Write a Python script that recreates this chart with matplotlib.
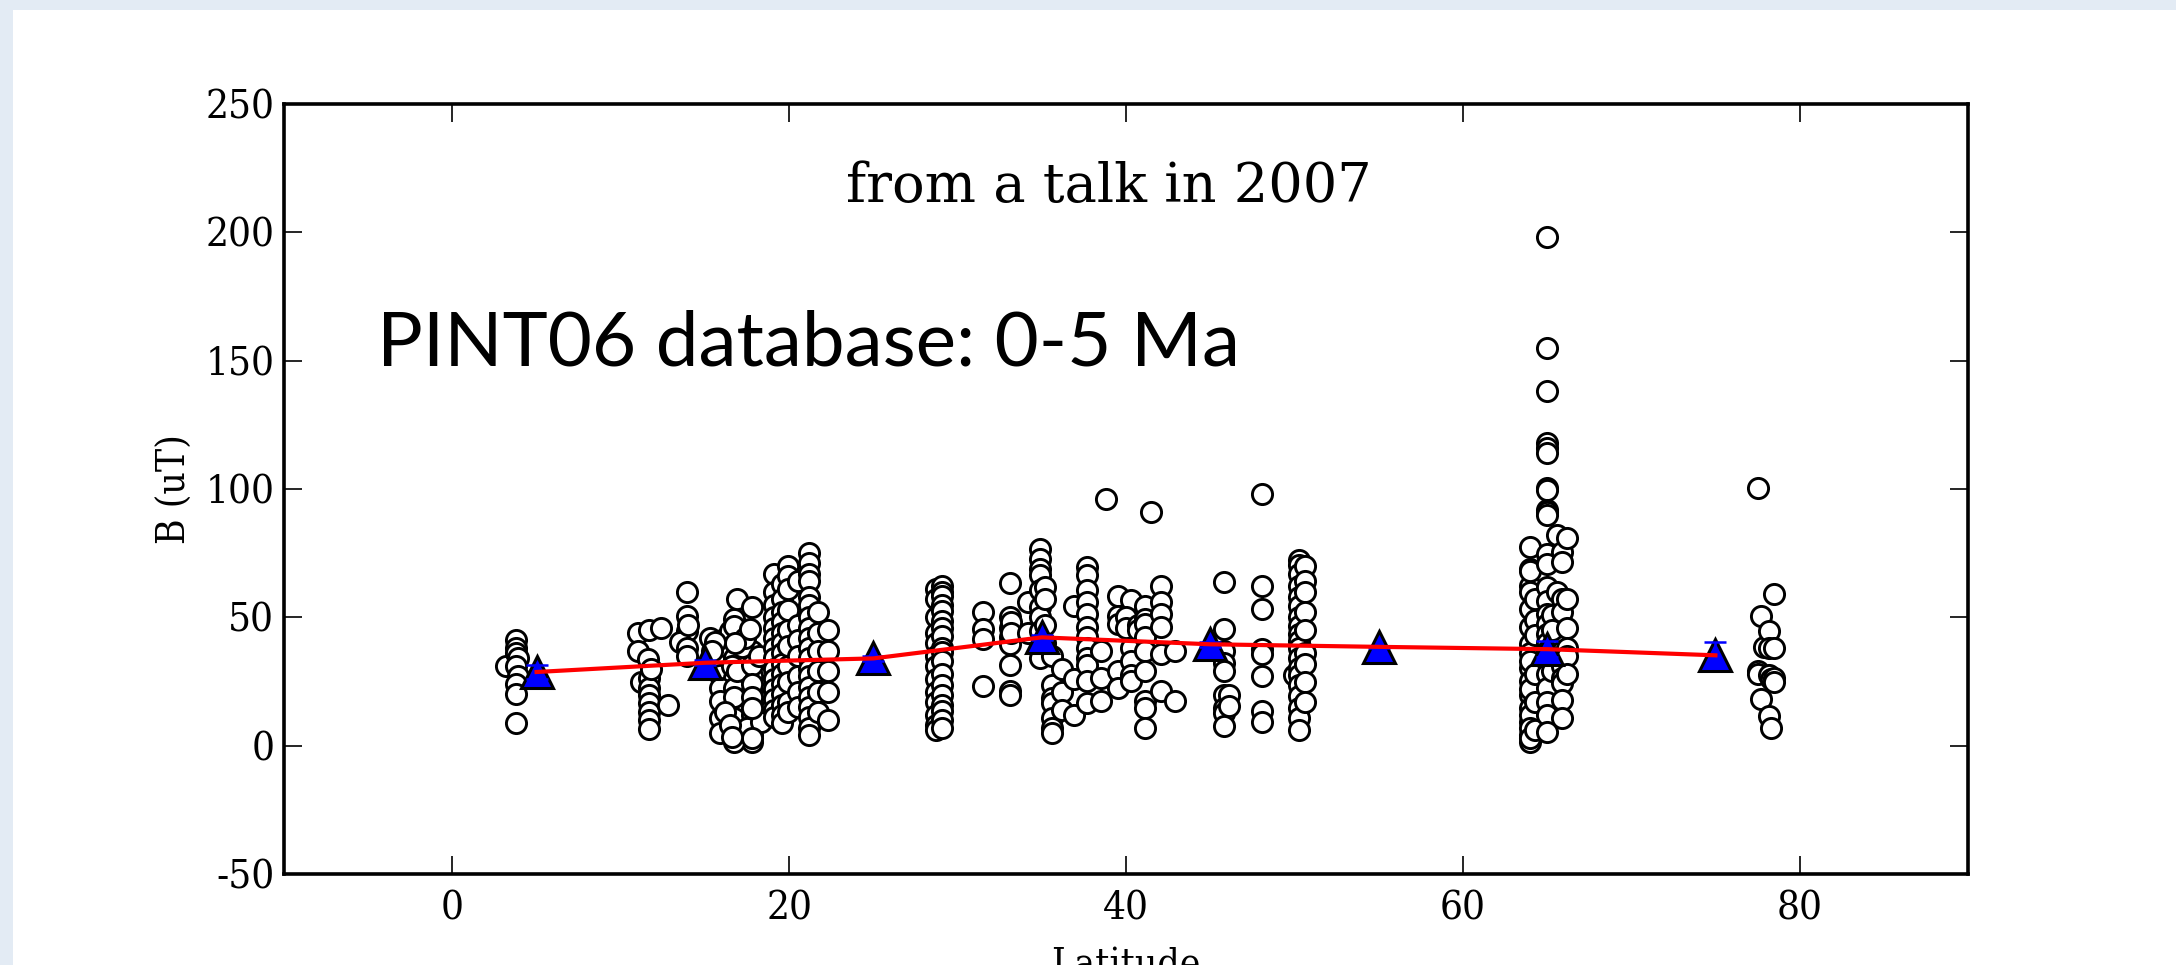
import matplotlib.pyplot as plt
from matplotlib.patches import Rectangle

plt.rcParams["axes.unicode_minus"] = False
plt.rcParams["font.family"] = ["DejaVu Serif"]

# PINT06 site intensities, grouped by latitude band
lat_00 = [3.2, 3.8, 3.8, 3.8, 3.9, 3.8, 3.9, 3.8, 3.8, 3.8]
b_00 = [31, 41, 38, 36, 34, 31, 27, 24, 20, 9]

lat_10 = [11.0, 11.0, 11.2, 11.7, 12.4, 11.6, 11.7, 11.7, 11.7, 11.7, 11.7, 11.7, 11.7, 12.8, 11.8,
          13.95, 13.95, 13.95, 13.5, 13.95, 13.95, 15.3, 14.0]
b_10 = [44, 37, 25, 45, 46, 33.6, 26.4, 22.5, 19.9, 16.6, 13.3, 10, 6.5, 16, 30,
        60, 50.7, 44.8, 40.2, 38.2, 35, 42, 47]

lat_16 = [16.1, 16.7, 16.9, 17.8, 16.5, 15.9, 16.4, 16.7, 17.8, 15.9, 16.7, 17.8, 15.9, 16.7, 17.8,
          15.9, 16.7, 17.8, 15.9, 16.7, 17.8, 17.8, 15.9, 16.7, 17.8, 17.8, 16.7, 17.5, 18.3,
          16.7, 16.6, 16.9, 17.8, 17.8, 16.7, 17.8, 16.2, 17.8, 16.5, 17.8, 16.6, 17.2, 17.4,
          16.8, 18.2, 17.7, 15.6, 15.4]
b_16 = [41.5, 49.3, 57.2, 53.9, 44.8, 33, 38.2, 34.3, 36.9, 27.7, 26.4, 27, 22.5, 22.5, 21.2,
        17.3, 15.3, 16.6, 10.7, 10.7, 12, 8.1, 4.8, 4.8, 4.2, 1.6, 1.6, 6.8, 9.4,
        46.5, 31, 29, 31.5, 24, 19, 18.8, 13, 14.5, 8, 2.8, 3.2, 38.5, 42,
        40, 35, 45.5, 40.5, 36.8]

b_191 = [67, 60, 55, 50, 46, 42, 38, 34, 30, 26, 22, 18, 14, 11]
b_196 = [63, 57, 52, 48, 44, 40, 36, 32, 28, 24, 20, 16, 12, 9]
b_199 = [70, 66, 61, 53, 45, 39, 31, 25, 17, 13]
b_205 = [64, 47, 41, 35, 27, 21, 15]
b_212 = [75, 71, 67, 64, 58, 55, 50, 46, 42, 38, 34, 30, 27, 23, 19, 15, 11, 7, 4]
b_217 = [52, 44, 37, 29, 21, 13]
b_223 = [45, 37, 29, 21, 10]

b_287 = [61, 57, 50, 44, 40, 35, 31, 26, 21, 17, 12, 8, 6]
b_291 = [62.4, 60, 58.5, 55, 52.6, 48.7, 46, 42.8, 38, 36.4, 33, 28, 23.8, 19.9, 16, 13.4, 10, 7]

lat_31 = [31.5, 31.5, 31.5, 31.5, 33.1, 33.1, 33.1, 33.1, 33.1, 33.1, 33.1, 33.1, 33.2, 33.2,
          34.2, 34.2]
b_31 = [52, 45.4, 41.5, 23.2, 63.2, 50, 46, 42.2, 39.6, 31.6, 21.2, 19.9, 48, 44,
        55.9, 44]

lat_35 = [34.9] * 10 + [35.2] * 4 + [35.6] * 7 + [36.2] * 3 + [36.9] * 3
b_35 = [76.8, 72.9, 69, 66.4, 60.5, 54, 50, 44.8, 38.2, 34.3,
        62, 57, 47, 40,
        23.8, 18.6, 16.6, 10.7, 6.8, 5, 35,
        30, 21, 14,
        54.6, 25.8, 12]

lat_38 = [37.7] * 12 + [38.5] * 3 + [38.8] + [39.5] * 5 + [40.3] * 7 + [40.0, 40.0, 40.7, 40.7] \
    + [41.1] * 9 + [41.5] + [42.1] * 6 + [42.9] * 2
b_38 = [69.6, 66.4, 60.5, 56, 51.3, 46.1, 42.2, 38.2, 34.3, 31.6, 25.1, 16.6,
        37, 26.4, 17.3, 96,
        58.5, 50.6, 47.3, 29.1, 22.5,
        56.6, 48.7, 44.8, 38.2, 33, 27.7, 25.1,
        50, 46, 47, 45,
        54.6, 49.4, 47.3, 42.2, 37, 29.1, 17.3, 14.7, 6.8,
        91,
        62.4, 56, 51.3, 46.1, 35.6, 21.2,
        37, 17.3]

lat_46 = [45.8] * 9 + [46.1] * 2 + [48.1] * 8 + [50.0] + [50.3] * 19 + [50.6] * 9
b_46 = [63.7, 45.4, 37, 32.3, 29.1, 19.9, 14.7, 12.8, 7.6,
        19.9, 15.3,
        62.4, 53.3, 37.6, 35.6, 27, 13.4, 9.4, 98,
        27.7,
        72.2, 70.3, 67, 62.4, 57.9, 54.6, 50, 46.8, 43.5, 40.9, 38.2, 34.3, 30.4, 27.7, 23.8,
        19.3, 14.7, 10.7, 6.2,
        70, 64, 60, 52, 45, 36, 32, 25, 17]

lat_65 = [64.0] * 21 + [64.3] * 6 + [65.0] * 26 + [65.3] * 3 + [65.6] * 2 + [65.9] * 10 + [66.2] * 6
b_65 = [77.4, 69, 62.4, 53.3, 46.1, 39.6, 30.4, 25.1, 19.9, 14.7, 9.4, 4.2, 1.5, 68, 60, 36, 33, 22, 12, 7, 3,
        57, 49, 43, 28, 17, 6,
        74.8, 70.9, 61.7, 56.4, 51.3, 47.3, 43.5, 33, 27.8, 22.5, 17.2, 12, 5.5,
        198, 155, 138, 118, 116, 114, 100.5, 99.5, 92, 91, 90, 40, 37,
        51, 45, 29,
        82, 60,
        75.4, 71.5, 57.2, 52, 37, 31.1, 26.3, 24.4, 17.9, 10.7,
        81, 57.2, 46, 38, 35, 28]

lat_78 = [77.55, 77.55, 77.55, 77.7, 77.7, 77.9, 78.2, 78.2, 78.2, 78.2, 78.3, 78.3,
          78.5, 78.5, 78.5, 78.5]
b_78 = [100.4, 29, 28, 50.6, 18, 38.5, 44.8, 38.2, 27.5, 11.4, 7, 26,
        59.1, 38, 26.3, 25]

# 10-degree bin averages
bin_lat = [5, 15, 25, 35, 45, 55, 65, 75]
bin_mean = [28.7, 32.3, 34.0, 42.2, 39.5, 38.5, 37.6, 35.2]
bin_err = [2.7, 1.0, 1.0, 1.0, 1.0, 0.5, 3.0, 5.0]

lat_19 = [19.1] * len(b_191) + [19.6] * len(b_196) + [19.9] * len(b_199) + [20.5] * len(b_205) \
    + [21.2] * len(b_212) + [21.7] * len(b_217) + [22.3] * len(b_223)
b_19 = b_191 + b_196 + b_199 + b_205 + b_212 + b_217 + b_223
lat_28 = [28.7] * len(b_287) + [29.1] * len(b_291)
b_28 = b_287 + b_291

lats = lat_00 + lat_10 + lat_16 + lat_19 + lat_28 + lat_31 + lat_35 + lat_38 + lat_46 + lat_65 + lat_78
bs = b_00 + b_10 + b_16 + b_19 + b_28 + b_31 + b_35 + b_38 + b_46 + b_65 + b_78

W, H = 2176, 965
fig = plt.figure(figsize=(W / 100, H / 100), dpi=100)
fig.patch.set_facecolor("#e3ebf4")
fig.patches.append(Rectangle((13 / W, 0), 1, 1 - 10 / H, transform=fig.transFigure,
                             facecolor="white", edgecolor="none", zorder=-10))

ax = fig.add_axes([284 / W, 91 / H, 1684 / W, 770 / H])
ax.set_zorder(5)
ax.plot(lats, bs, "o", ls="none", mfc="white", mec="black", ms=14.5, mew=2.1, zorder=2)
ax.plot(bin_lat, bin_mean, "^", ls="none", mfc="blue", mec="black", ms=23, mew=2.2, zorder=3)
ax.errorbar(bin_lat, bin_mean, yerr=bin_err, fmt="none", ecolor="blue", elinewidth=1.8,
            capsize=8, capthick=1.8, zorder=4)
ax.plot(bin_lat, bin_mean, "-", color="red", lw=3, zorder=5)

ax.set_xlim(-10, 90)
ax.set_ylim(-50, 250)
ax.set_xticks([0, 20, 40, 60, 80])
ax.set_yticks([-50, 0, 50, 100, 150, 200, 250])
ax.tick_params(direction="in", length=13, width=1.2, top=True, right=True, labelsize=29)
ax.tick_params(axis="x", pad=12)
ax.tick_params(axis="y", pad=7)
for lab in ax.get_xticklabels() + ax.get_yticklabels():
    lab.set_fontstretch("condensed")
for s in ax.spines.values():
    s.set_linewidth(2.6)
ax.set_xlabel("Latitude", fontsize=28, labelpad=14, fontstretch="condensed")
ax.set_ylabel("B (uT)", fontsize=28, labelpad=8, fontstretch="condensed")

ax.text(39, 212, "from a talk in 2007", fontsize=39, ha="center", va="baseline")
ax.text(-4.5, 148, "PINT06 database: 0-5 Ma", fontsize=55, family="Lato",
        ha="left", va="baseline")

fig.savefig("out.png", dpi=100, facecolor=fig.get_facecolor())
